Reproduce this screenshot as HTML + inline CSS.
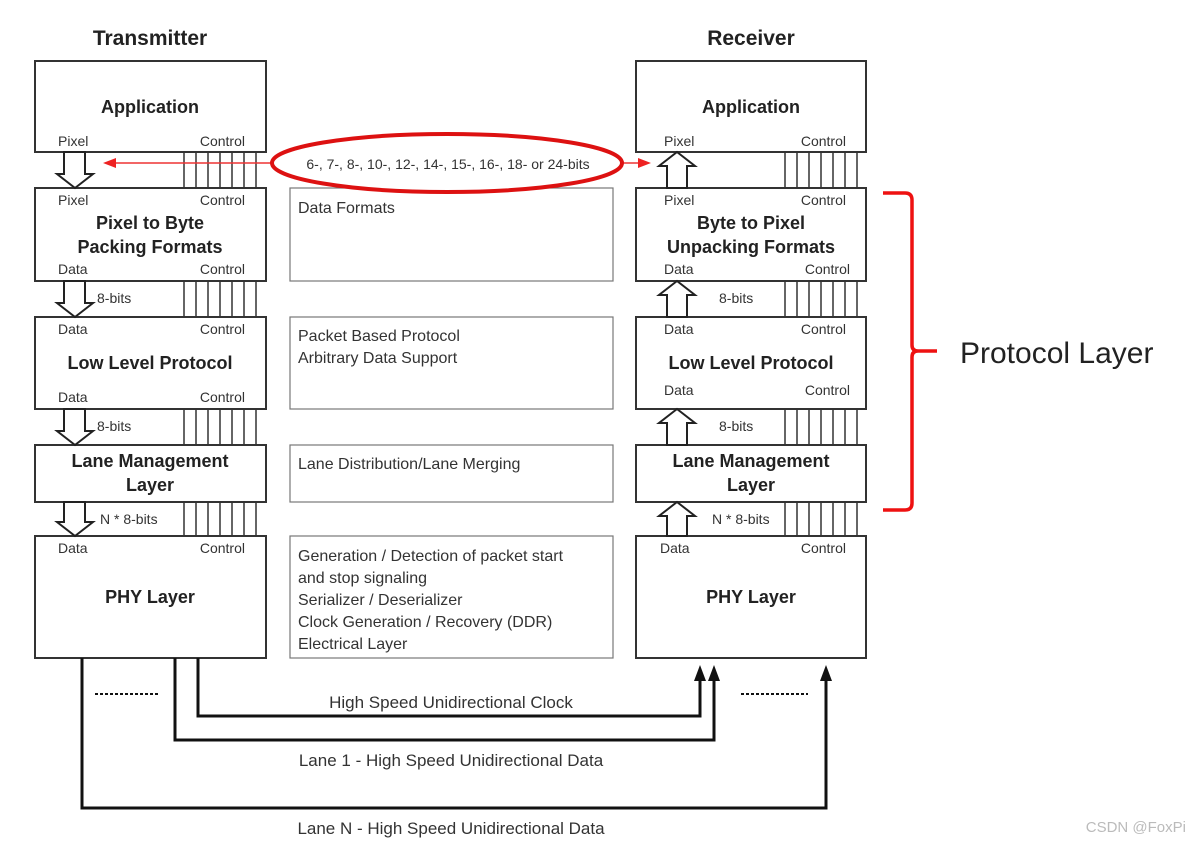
<!DOCTYPE html>
<html><head><meta charset="utf-8"><style>
html,body{margin:0;padding:0;background:#fff;}
svg{display:block;font-family:"Liberation Sans",Arial,sans-serif;}
</style></head><body>
<svg width="1192" height="845" viewBox="0 0 1192 845" xmlns="http://www.w3.org/2000/svg">
<g font-weight="bold" font-size="21" fill="#222" text-anchor="middle">
<text x="150" y="45">Transmitter</text>
<text x="751" y="45">Receiver</text>
</g>
<g fill="#fff" stroke="#333" stroke-width="2">
<rect x="35" y="61" width="231" height="91"/>
<rect x="35" y="188" width="231" height="93"/>
<rect x="35" y="317" width="231" height="92"/>
<rect x="35" y="445" width="231" height="57"/>
<rect x="35" y="536" width="231" height="122"/>
<rect x="636" y="61" width="230" height="91"/>
<rect x="636" y="188" width="230" height="93"/>
<rect x="636" y="317" width="230" height="92"/>
<rect x="636" y="445" width="230" height="57"/>
<rect x="636" y="536" width="230" height="122"/>
</g>
<g fill="#fff" stroke="#777" stroke-width="1.2">
<rect x="290" y="188" width="323" height="93"/>
<rect x="290" y="317" width="323" height="92"/>
<rect x="290" y="445" width="323" height="57"/>
<rect x="290" y="536" width="323" height="122"/>
</g>
<g stroke="#333" stroke-width="1.5">
<path d="M184 152V188M196 152V188M208 152V188M220 152V188M232 152V188M244 152V188M256 152V188"/>
<path d="M184 281V317M196 281V317M208 281V317M220 281V317M232 281V317M244 281V317M256 281V317"/>
<path d="M184 409V445M196 409V445M208 409V445M220 409V445M232 409V445M244 409V445M256 409V445"/>
<path d="M184 502V536M196 502V536M208 502V536M220 502V536M232 502V536M244 502V536M256 502V536"/>
<path d="M785 152V188M797 152V188M809 152V188M821 152V188M833 152V188M845 152V188M857 152V188"/>
<path d="M785 281V317M797 281V317M809 281V317M821 281V317M833 281V317M845 281V317M857 281V317"/>
<path d="M785 409V445M797 409V445M809 409V445M821 409V445M833 409V445M845 409V445M857 409V445"/>
<path d="M785 502V536M797 502V536M809 502V536M821 502V536M833 502V536M845 502V536M857 502V536"/>
</g>
<g fill="#fff" stroke="#222" stroke-width="2">
<path d="M64 152V174H57L75 188L93 174H85V152Z"/>
<path d="M64 281V303H57L75 317L93 303H85V281Z"/>
<path d="M64 409V431H57L75 445L93 431H85V409Z"/>
<path d="M64 502V522H57L75 536L93 522H85V502Z"/>
<path d="M667 188V166H659L677 152L695 166H687V188Z"/>
<path d="M667 317V295H659L677 281L695 295H687V317Z"/>
<path d="M667 445V423H659L677 409L695 423H687V445Z"/>
<path d="M667 536V516H659L677 502L695 516H687V536Z"/>
</g>
<g font-size="14" fill="#333">
<text x="58" y="146">Pixel</text><text x="245" y="146" text-anchor="end">Control</text>
<text x="58" y="205">Pixel</text><text x="245" y="205" text-anchor="end">Control</text>
<text x="58" y="274">Data</text><text x="245" y="274" text-anchor="end">Control</text>
<text x="58" y="334">Data</text><text x="245" y="334" text-anchor="end">Control</text>
<text x="58" y="402">Data</text><text x="245" y="402" text-anchor="end">Control</text>
<text x="58" y="553">Data</text><text x="245" y="553" text-anchor="end">Control</text>
<text x="97" y="303">8-bits</text>
<text x="97" y="431">8-bits</text>
<text x="100" y="524">N * 8-bits</text>
<text x="664" y="146">Pixel</text><text x="846" y="146" text-anchor="end">Control</text>
<text x="664" y="205">Pixel</text><text x="846" y="205" text-anchor="end">Control</text>
<text x="664" y="274">Data</text><text x="850" y="274" text-anchor="end">Control</text>
<text x="664" y="334">Data</text><text x="846" y="334" text-anchor="end">Control</text>
<text x="664" y="395">Data</text><text x="850" y="395" text-anchor="end">Control</text>
<text x="660" y="553">Data</text><text x="846" y="553" text-anchor="end">Control</text>
<text x="719" y="303">8-bits</text>
<text x="719" y="431">8-bits</text>
<text x="712" y="524">N * 8-bits</text>
</g>
<g font-size="18" font-weight="bold" fill="#222" text-anchor="middle">
<text x="150" y="113">Application</text>
<text x="150" y="229">Pixel to Byte</text>
<text x="150" y="253">Packing Formats</text>
<text x="150" y="369">Low Level Protocol</text>
<text x="150" y="467">Lane Management</text>
<text x="150" y="491">Layer</text>
<text x="150" y="603">PHY Layer</text>
<text x="751" y="113">Application</text>
<text x="751" y="229">Byte to Pixel</text>
<text x="751" y="253">Unpacking Formats</text>
<text x="751" y="369">Low Level Protocol</text>
<text x="751" y="467">Lane Management</text>
<text x="751" y="491">Layer</text>
<text x="751" y="603">PHY Layer</text>
</g>
<g font-size="16" fill="#333">
<text x="298" y="213">Data Formats</text>
<text x="298" y="341">Packet Based Protocol</text>
<text x="298" y="363">Arbitrary Data Support</text>
<text x="298" y="469">Lane Distribution/Lane Merging</text>
<text x="298" y="561">Generation / Detection of packet start</text>
<text x="298" y="583">and stop signaling</text>
<text x="298" y="605">Serializer / Deserializer</text>
<text x="298" y="627">Clock Generation / Recovery (DDR)</text>
<text x="298" y="649">Electrical Layer</text>
</g>
<line x1="112" y1="163" x2="642" y2="163" stroke="#e33" stroke-width="1.5"/>
<path d="M103 163L116 158V168Z" fill="#e22"/>
<path d="M651 163L638 158V168Z" fill="#e22"/>
<ellipse cx="447" cy="163" rx="175" ry="29" fill="#fff" stroke="#d11" stroke-width="4"/>
<text x="448" y="169" font-size="14" fill="#333" text-anchor="middle">6-, 7-, 8-, 10-, 12-, 14-, 15-, 16-, 18- or 24-bits</text>
<g fill="none" stroke="#111" stroke-width="3">
<path d="M82 658V808H826V676"/>
<path d="M175 658V740H714V676"/>
<path d="M198 658V716H700V676"/>
</g>
<g fill="#111">
<path d="M826 665L820 681H832Z"/>
<path d="M714 665L708 681H720Z"/>
<path d="M700 665L694 681H706Z"/>
</g>
<g stroke="#111" stroke-width="2" stroke-dasharray="3,2">
<line x1="95" y1="694" x2="160" y2="694"/>
<line x1="741" y1="694" x2="808" y2="694"/>
</g>
<g font-size="17" fill="#333" text-anchor="middle">
<text x="451" y="708">High Speed Unidirectional Clock</text>
<text x="451" y="766">Lane 1 - High Speed Unidirectional Data</text>
<text x="451" y="834">Lane N - High Speed Unidirectional Data</text>
</g>
<path d="M883 193H905Q912 193 912 200V345Q912 351 918 351H937M918 351Q912 351 912 357V503Q912 510 905 510H883" fill="none" stroke="#e11" stroke-width="3.5"/>
<text x="960" y="363" font-size="30" fill="#222">Protocol Layer</text>
<text x="1186" y="832" font-size="15" fill="#bbb" text-anchor="end">CSDN @FoxPi</text>
</svg>
</body></html>
